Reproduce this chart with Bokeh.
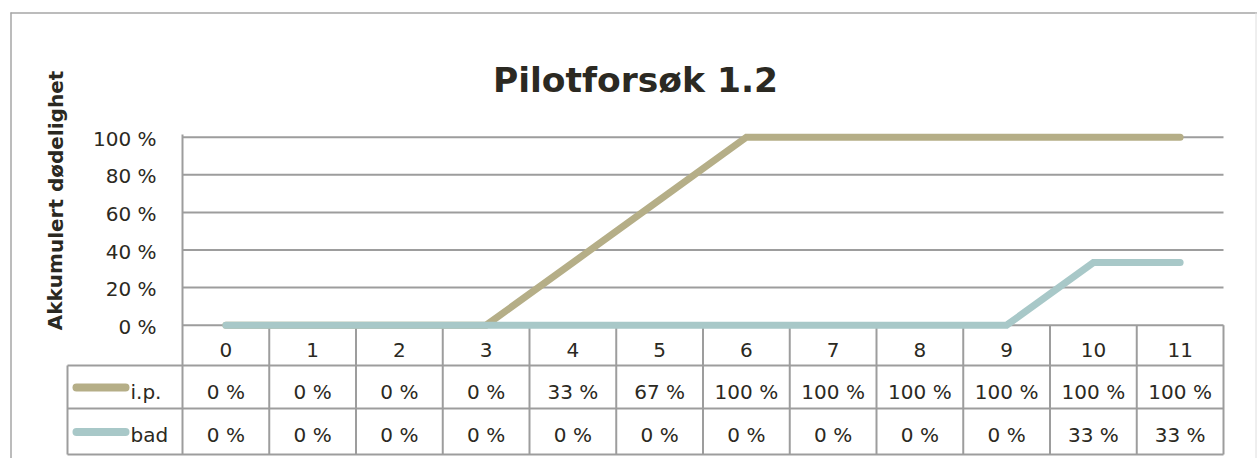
from bokeh.plotting import figure
from bokeh.models import Range1d
from bokeh.embed import file_html
from bokeh.resources import INLINE
from bokeh.core.properties import value

# ---------------- data ----------------
title_text = "Pilotforsøk 1.2"
y_label = "Akkumulert dødelighet"
categories = ["0", "1", "2", "3", "4", "5", "6", "7", "8", "9", "10", "11"]
ip_values = [0, 0, 0, 0, 0.333, 0.667, 1, 1, 1, 1, 1, 1]
bad_values = [0, 0, 0, 0, 0, 0, 0, 0, 0, 0, 0.333, 0.333]
series_names = ["i.p.", "bad"]
series_colors = ["#b5ae87", "#a8c8c8"]
ytick_values = [0, 0.2, 0.4, 0.6, 0.8, 1.0]
ytick_labels = ["0 %", "20 %", "40 %", "60 %", "80 %", "100 %"]

# ---------------- layout (page pixels) ----------------
W, H = 1257, 458
OFF = 0
PX_LEFT, PX_RIGHT = 182, 1223
PY_TOP, PY_ZERO = 136.7, 324.7
n = len(categories)
col_w = (PX_RIGHT - PX_LEFT) / n
unit_h = PY_ZERO - PY_TOP


def X(px):
    return -0.5 + (px - PX_LEFT) / col_w


def Y(py):
    return (PY_ZERO - py) / unit_h


FONT = "DejaVu Sans"
TXT = "#2b2922"
GRAY = "#9d9d9d"

p = figure(width=W, height=H,
           x_range=Range1d(X(OFF), X(OFF + W)),
           y_range=Range1d(Y(OFF + H), Y(OFF)),
           x_axis_location=None, y_axis_location=None,
           output_backend="svg", toolbar_location=None, min_border=0)
p.grid.visible = False
p.outline_line_color = None
p.background_fill_color = "white"
p.border_fill_color = "white"

# outer chart border
p.segment(x0=[X(10), X(10.5)], y0=[Y(12.5), Y(12)], x1=[X(1257), X(10.5)], y1=[Y(12.5), Y(458)],
          line_color="#a6a6a6", line_width=1.5)
p.segment(x0=[X(1255.5)], y0=[Y(12)], x1=[X(1255.5)], y1=[Y(458)], line_color="#dedede", line_width=1)

TB = 454  # table bottom
ROW_LINES = [365, 408, TB]

# horizontal gridlines
p.segment(x0=[-0.5] * len(ytick_values), x1=[n - 0.5] * len(ytick_values),
          y0=ytick_values, y1=ytick_values, line_color=GRAY, line_width=2)
# value axis line
p.segment(x0=[-0.5], x1=[-0.5], y0=[Y(134)], y1=[Y(TB)], line_color=GRAY, line_width=2)
# column separators of the data table
seps = [k - 0.5 for k in range(1, n + 1)]
p.segment(x0=seps, x1=seps, y0=[0] * n, y1=[Y(TB)] * n, line_color=GRAY, line_width=2)
# table row lines
p.segment(x0=[X(67)] * 3, x1=[n - 0.5] * 3, y0=[Y(r) for r in ROW_LINES], y1=[Y(r) for r in ROW_LINES],
          line_color=GRAY, line_width=2)
p.segment(x0=[X(67)], x1=[X(67)], y0=[Y(365)], y1=[Y(TB)], line_color=GRAY, line_width=2)

# series lines
xs = list(range(n))
for vals, col in zip([ip_values, bad_values], series_colors):
    p.line(x=xs, y=vals, line_color=col, line_width=7, line_cap="round", line_join="miter")

# title
p.text(x=[X(635)], y=[Y(79)], text=[title_text], text_font=value(FONT), text_font_style="bold",
       text_font_size="34.5px", text_color=TXT, text_align="center", text_baseline="alphabetic")
# y axis label
p.text(x=[X(55)], y=[Y(200)], text=[y_label], angle=1.5707963, text_font=value(FONT),
       text_font_style="bold", text_font_size="20px", text_color=TXT,
       text_align="center", text_baseline="middle")
# y tick labels
p.text(x=[X(156)] * len(ytick_values), y=[v - 1.5 / unit_h for v in ytick_values], text=ytick_labels,
       text_font=value(FONT), text_font_size="20px", text_color=TXT,
       text_align="right", text_baseline="middle")

# category row
p.text(x=xs, y=[Y(349)] * n, text=categories, text_font=value(FONT), text_font_size="20px",
       text_color=TXT, text_align="center", text_baseline="middle")

# data rows
row_centers = [391, 434]
swatch_y = [387, 431.5]
for vals, name, col, rc, sy in zip([ip_values, bad_values], series_names, series_colors, row_centers, swatch_y):
    labels = ["%d %%" % round(v * 100) for v in vals]
    p.text(x=xs, y=[Y(rc)] * n, text=labels, text_font=value(FONT), text_font_size="20px",
           text_color=TXT, text_align="center", text_baseline="middle")
    p.line(x=[X(76), X(125)], y=[Y(sy), Y(sy)], line_color=col, line_width=8, line_cap="round")
    p.text(x=[X(130)], y=[Y(rc)], text=[name], text_font=value(FONT), text_font_size="20px",
           text_color=TXT, text_align="left", text_baseline="middle")

open("out.html", "w").write(file_html(p, INLINE))
